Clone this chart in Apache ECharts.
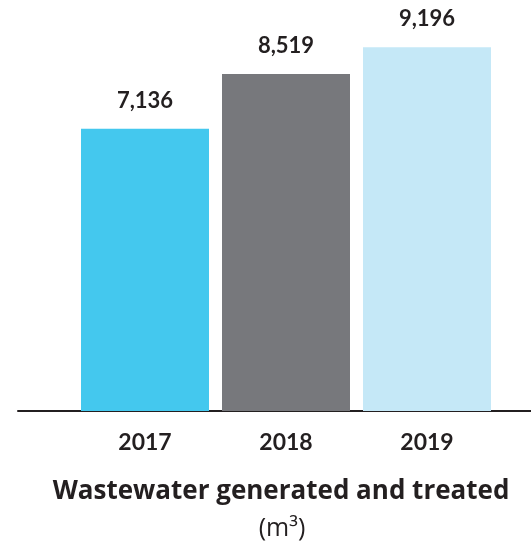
<!DOCTYPE html>
<html><head><meta charset="utf-8">
<script src="https://cdn.jsdelivr.net/npm/echarts@6/dist/echarts.min.js"></script>
<style>html,body{margin:0;padding:0;background:#fff}#c{width:531px;height:547px}</style>
</head><body><div id="c"></div>
<script>
const categories = ['2017', '2018', '2019'];
const values = [7136, 8519, 9196];
const barColors = ['#44C8EE', '#77787C', '#C5E8F7'];
const titleText = 'Wastewater generated and treated';
const unitText = '(m³)';

const chart = echarts.init(document.getElementById('c'), null, {renderer: 'canvas'});
chart.setOption({
  animation: false,
  title: [
    {text: titleText, left: 276, top: 474, textAlign: 'center',
     textStyle: {fontFamily: 'Open Sans', fontWeight: 'bold', fontSize: 26, color: '#231F20'}},
    {text: unitText, left: 277, top: 511, textAlign: 'center',
     textStyle: {fontFamily: 'Open Sans', fontWeight: 'normal', fontSize: 25, color: '#231F20'}}
  ],
  grid: [
    {left: 74.5, right: 33.5, top: 15.5, bottom: 136, containLabel: false},
    {left: 18, right: 0, top: 15.5, bottom: 136, containLabel: false}
  ],
  xAxis: [
    {type: 'category', data: categories, gridIndex: 0,
     axisLine: {show: false}, axisTick: {show: false},
     axisLabel: {margin: 20, fontFamily: 'Lato', fontWeight: 'bold', fontSize: 23, color: '#231F20'}},
    {type: 'value', gridIndex: 1, min: 0, max: 1,
     axisLine: {show: true, lineStyle: {color: '#231F20', width: 2}},
     axisTick: {show: false}, axisLabel: {show: false}, splitLine: {show: false}}
  ],
  yAxis: [
    {type: 'value', min: 0, max: 10000, gridIndex: 0, show: false},
    {type: 'value', min: 0, max: 10000, gridIndex: 1, show: false}
  ],
  series: [{
    type: 'bar',
    xAxisIndex: 0, yAxisIndex: 0,
    barWidth: 128,
    data: values.map((v, i) => ({value: v, itemStyle: {color: barColors[i]}})),
    label: {show: true, position: 'top', distance: 17,
      formatter: p => p.value.toLocaleString('en-US'),
      fontFamily: 'Lato', fontWeight: 'bold', fontSize: 22, color: '#231F20'}
  }]
});
</script></body></html>
